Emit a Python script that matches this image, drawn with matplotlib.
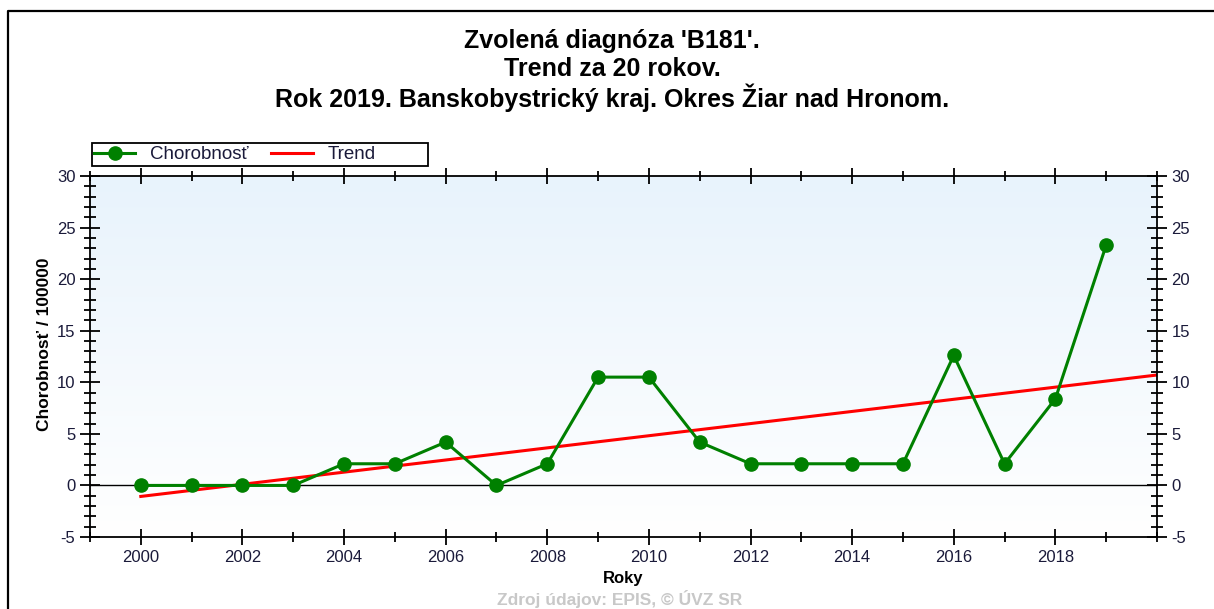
import numpy as np
import matplotlib.pyplot as plt
from matplotlib.lines import Line2D
from matplotlib.patches import Rectangle
from matplotlib.ticker import MultipleLocator

plt.rcParams['font.family'] = ['Liberation Sans', 'DejaVu Sans']
plt.rcParams['axes.unicode_minus'] = False

years = list(range(2000, 2020))
chorobnost = [0, 0, 0, 0, 2.1, 2.1, 4.2, 0, 2.1, 10.5,
              10.5, 4.2, 2.1, 2.1, 2.1, 2.1, 12.6, 2.1, 8.4, 23.3]
x_ticks = list(range(2000, 2020, 2))

# linear trend from the data
slope, icpt = np.polyfit(years, chorobnost, 1)
trend_x = [2000, 2020]
trend_y = [slope * x + icpt for x in trend_x]

fig = plt.figure(figsize=(12.14, 6.09), dpi=100)
ax = fig.add_axes([90/1214, 1-537/609, (1157-90)/1214, (537-176)/609])

# light blue -> white background gradient
grad = np.linspace(1, 0, 256).reshape(-1, 1)
top = np.array([232, 243, 252]) / 255
bot = np.array([255, 255, 255]) / 255
img = grad[..., None] * top + (1 - grad[..., None]) * bot
ax.imshow(img, extent=[1999, 2020, -5, 30], aspect='auto', zorder=0, origin='upper')

ax.axhline(0, color='black', lw=1, zorder=1)
ax.plot(years, chorobnost, color='#008000', lw=2.2, marker='o', ms=9.5,
        label='Chorobnosť', zorder=3)
ax.plot(trend_x, trend_y, color='#ff0000', lw=2.2, label='Trend', zorder=2)

ax.set_xlim(1999, 2020)
ax.set_ylim(-5, 30)
ax.set_xticks(x_ticks)
ax.xaxis.set_minor_locator(MultipleLocator(1))
ax.yaxis.set_major_locator(MultipleLocator(5))
ax.yaxis.set_minor_locator(MultipleLocator(1))
ax.tick_params(axis='both', which='both', labelsize=12, labelcolor='#1a1a3a')
ax.tick_params(axis='x', which='major', direction='inout', length=12, width=1.3,
               top=True, labeltop=False)
ax.tick_params(axis='x', which='minor', direction='inout', length=7, width=1.3, top=True)
ax.tick_params(axis='y', which='major', direction='inout', length=14, width=1.3,
               right=True, labelright=True)
ax.tick_params(axis='y', which='minor', direction='inout', length=8, width=1.3, right=True)
for s in ax.spines.values():
    s.set_linewidth(1.3)

ax.set_xlabel('Roky', fontsize=12, fontweight='bold', labelpad=4)
ax.set_ylabel('Chorobnosť / 100000', fontsize=12.5, fontweight='bold')
ax.yaxis.set_label_coords(-0.036, 0.535)

# legend without its own frame; box drawn separately at the reference size
leg = ax.legend(loc='center left', bbox_to_anchor=(4/1067, 1 + 21.5/361), ncol=2,
                fontsize=13.5, frameon=False, handlelength=2.2, handletextpad=0.8,
                columnspacing=1.2, borderaxespad=0, borderpad=0)
for t in leg.get_texts():
    t.set_color('#1a1a3a')
for h in leg.legend_handles:
    h.set_markersize(9.5)
ax.add_patch(Rectangle((2/1067, 1 + 10/361), 336/1067, 23/361, transform=ax.transAxes,
                       fill=False, edgecolor='black', lw=1.3, clip_on=False))

title_lines = ["Zvolená diagnóza 'B181'.", 'Trend za 20 rokov.',
               'Rok 2019. Banskobystrický kraj. Okres Žiar nad Hronom.']
for line, ypix in zip(title_lines, [41, 69, 98]):
    fig.text(612/1214, 1-ypix/609, line, ha='center', va='center',
             fontsize=18, fontweight='bold')
fig.text(620/1214, 1-599/609, 'Zdroj údajov: EPIS, © ÚVZ SR', ha='center', va='center',
         fontsize=12.5, fontweight='bold', color='#c8c8c8')

# outer frame
fig.add_artist(Line2D([8/1214, 8/1214, 1], [0, 1-11/609, 1-11/609], color='black', lw=1.6,
                      transform=fig.transFigure))

fig.savefig('out.png', dpi=100)
